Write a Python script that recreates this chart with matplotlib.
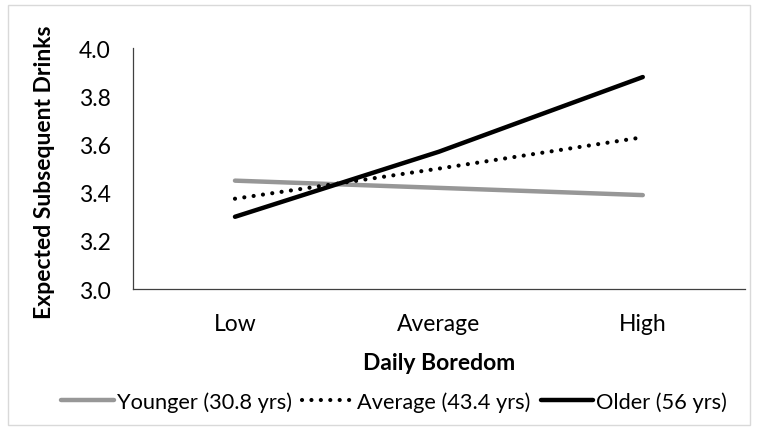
import matplotlib.pyplot as plt
from matplotlib.patches import Rectangle

plt.rcParams['font.family'] = ['Lato', 'DejaVu Sans']

categories = ['Low', 'Average', 'High']
younger = [3.45, 3.42, 3.39]
average = [3.375, 3.50, 3.63]
older = [3.30, 3.57, 3.88]
labels = ['Younger (30.8 yrs)', 'Average (43.4 yrs)', 'Older (56 yrs)']
yticks = [3.0, 3.2, 3.4, 3.6, 3.8, 4.0]

fig = plt.figure(figsize=(7.58, 4.31), dpi=100)
ax = fig.add_axes([0.1755, 0.327, 0.807, 0.559])

x = range(len(categories))
ax.plot(x, younger, color='#979797', lw=3.2, solid_capstyle='round', label=labels[0])
ax.plot(x, average, color='black', lw=3.0, linestyle=(0, (0.01, 2.25)),
        dash_capstyle='round', label=labels[1])
ax.plot(x, older, color='black', lw=3.2, solid_capstyle='round', label=labels[2])

ax.set_xlim(-0.5, 2.5)
ax.set_ylim(3.0, 4.0)
ax.set_yticks(yticks)
ax.set_yticklabels([f'{v:.1f}' for v in yticks])
ax.set_xticks(list(x))
ax.set_xticklabels(categories)
ax.tick_params(length=0, labelsize=16.5, colors='black')
ax.tick_params(axis='y', pad=16)
ax.tick_params(axis='x', pad=17)

for s in ['top', 'right']:
    ax.spines[s].set_visible(False)
for s in ['left', 'bottom']:
    ax.spines[s].set_color('#404040')
    ax.spines[s].set_linewidth(0.9)

ax.set_xlabel('Daily Boredom', fontsize=16.5, fontweight='bold')
ax.set_ylabel('Expected Subsequent Drinks', fontsize=16.5, fontweight='bold')
ax.xaxis.set_label_coords(0.5, -0.262)
ax.yaxis.set_label_coords(-0.128, 0.49)

fig.legend(loc='center', bbox_to_anchor=(0.52, 0.066), ncol=3, frameon=False,
           fontsize=15.7, handlelength=2.4, handletextpad=0.15, columnspacing=0.45)

fig.patches.append(Rectangle((0.011, 0.012), 0.978, 0.975, transform=fig.transFigure,
                             fill=False, edgecolor='#d9d9d9', lw=1.0))

fig.savefig('out.png', dpi=100)
